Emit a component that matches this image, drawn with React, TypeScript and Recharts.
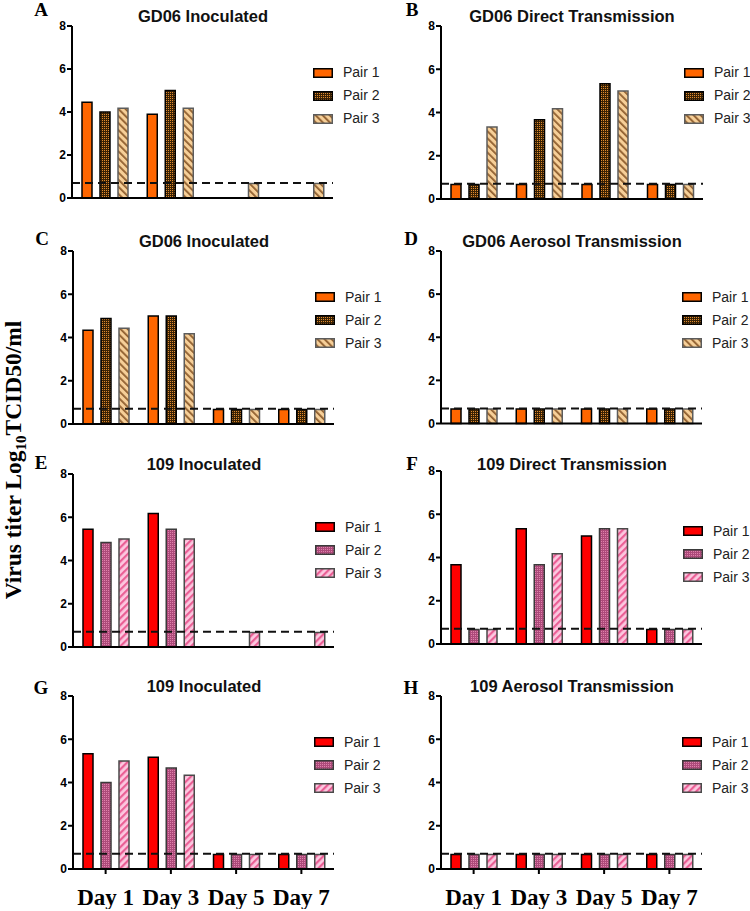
import React from 'react';
import { BarChart, Bar, XAxis, YAxis, ReferenceLine, Legend } from 'recharts';

const days = ['Day 1', 'Day 3', 'Day 5', 'Day 7'];
const yTicks = [0, 2, 4, 6, 8];
const pairNames = ['Pair 1', 'Pair 2', 'Pair 3'];
const detectionLimit = 0.7;

// A - GD06 Inoculated
const aPair1 = [4.45, 3.9, null, null];
const aPair2 = [4.0, 5.0, null, null];
const aPair3 = [4.17, 4.17, 0.67, 0.67];
// B - GD06 Direct Transmission
const bPair1 = [0.67, 0.67, 0.67, 0.67];
const bPair2 = [0.67, 3.67, 5.33, 0.67];
const bPair3 = [3.33, 4.17, 5.0, 0.67];
// C - GD06 Inoculated
const cPair1 = [4.33, 5.0, 0.67, 0.67];
const cPair2 = [4.88, 5.0, 0.67, 0.67];
const cPair3 = [4.43, 4.17, 0.67, 0.67];
// D - GD06 Aerosol Transmission
const dPair1 = [0.67, 0.67, 0.67, 0.67];
const dPair2 = [0.67, 0.67, 0.67, 0.67];
const dPair3 = [0.67, 0.67, 0.67, 0.67];
// E - 109 Inoculated
const ePair1 = [5.44, 6.17, null, null];
const ePair2 = [4.83, 5.44, null, null];
const ePair3 = [5.0, 5.0, 0.67, 0.67];
// F - 109 Direct Transmission
const fPair1 = [3.67, 5.33, 5.0, 0.67];
const fPair2 = [0.67, 3.67, 5.33, 0.67];
const fPair3 = [0.67, 4.17, 5.33, 0.67];
// G - 109 Inoculated
const gPair1 = [5.33, 5.17, 0.67, 0.67];
const gPair2 = [4.0, 4.67, 0.67, 0.67];
const gPair3 = [5.0, 4.33, 0.67, 0.67];
// H - 109 Aerosol Transmission
const hPair1 = [0.67, 0.67, 0.67, 0.67];
const hPair2 = [0.67, 0.67, 0.67, 0.67];
const hPair3 = [0.67, 0.67, 0.67, 0.67];

const SANS = '"Liberation Sans", Arial, sans-serif';
const SERIF = '"Liberation Serif", "Times New Roman", serif';
const Y_W = 30;
const X_H = 40;

type Plot = { left: number; right: number; top: number; bottom: number };
type PanelDef = {
  id: string;
  title: string;
  virus: 'gd' | 'h109';
  values: (number | null)[][];
  col: number;
  plot: Plot;
  legend: { x: number; y: number };
  titleAt: { x: number; y: number };
  letterAt: { x: number; y: number };
  showDays: boolean;
};

const panels: PanelDef[] = [
  { id: 'A', title: 'GD06 Inoculated', virus: 'gd', values: [aPair1, aPair2, aPair3], col: 0,
    plot: { left: 72, right: 333, top: 26, bottom: 198 }, legend: { x: 313, y: 72.5 },
    titleAt: { x: 203, y: 16 }, letterAt: { x: 41, y: 10 }, showDays: false },
  { id: 'B', title: 'GD06 Direct Transmission', virus: 'gd', values: [bPair1, bPair2, bPair3], col: 375,
    plot: { left: 441, right: 703, top: 26, bottom: 199 }, legend: { x: 684, y: 72.5 },
    titleAt: { x: 572, y: 16 }, letterAt: { x: 412, y: 10 }, showDays: false },
  { id: 'C', title: 'GD06 Inoculated', virus: 'gd', values: [cPair1, cPair2, cPair3], col: 0,
    plot: { left: 73, right: 334, top: 251, bottom: 424 }, legend: { x: 315, y: 297 },
    titleAt: { x: 204, y: 241 }, letterAt: { x: 42, y: 239 }, showDays: false },
  { id: 'D', title: 'GD06 Aerosol Transmission', virus: 'gd', values: [dPair1, dPair2, dPair3], col: 375,
    plot: { left: 441, right: 702, top: 251, bottom: 423.5 }, legend: { x: 682, y: 297 },
    titleAt: { x: 572, y: 241 }, letterAt: { x: 411, y: 239 }, showDays: false },
  { id: 'E', title: '109 Inoculated', virus: 'h109', values: [ePair1, ePair2, ePair3], col: 0,
    plot: { left: 73, right: 334, top: 474, bottom: 647 }, legend: { x: 315, y: 527 },
    titleAt: { x: 204, y: 464 }, letterAt: { x: 41, y: 463 }, showDays: false },
  { id: 'F', title: '109 Direct Transmission', virus: 'h109', values: [fPair1, fPair2, fPair3], col: 375,
    plot: { left: 441, right: 702, top: 471, bottom: 644 }, legend: { x: 683, y: 531 },
    titleAt: { x: 572, y: 464 }, letterAt: { x: 412, y: 464 }, showDays: false },
  { id: 'G', title: '109 Inoculated', virus: 'h109', values: [gPair1, gPair2, gPair3], col: 0,
    plot: { left: 73, right: 334, top: 696, bottom: 869 }, legend: { x: 314, y: 742 },
    titleAt: { x: 204, y: 686 }, letterAt: { x: 41, y: 688 }, showDays: true },
  { id: 'H', title: '109 Aerosol Transmission', virus: 'h109', values: [hPair1, hPair2, hPair3], col: 375,
    plot: { left: 441, right: 702, top: 696, bottom: 869 }, legend: { x: 682, y: 742 },
    titleAt: { x: 572, y: 686 }, letterAt: { x: 411, y: 688 }, showDays: true },
];

function seriesStyle(id: string, virus: 'gd' | 'h109') {
  if (virus === 'gd') {
    return [
      { fill: '#ff6600', stroke: '#000' },
      { fill: `url(#${id}-checker)`, stroke: '#000' },
      { fill: `url(#${id}-stripe)`, stroke: '#5c5c5c' },
    ];
  }
  return [
    { fill: '#ff0000', stroke: '#000' },
    { fill: `url(#${id}-checker)`, stroke: '#3a3a3a' },
    { fill: `url(#${id}-stripe)`, stroke: '#4a4a4a' },
  ];
}

function Patterns({ id, virus }: { id: string; virus: 'gd' | 'h109' }) {
  const gd = virus === 'gd';
  return (
    <defs>
      <pattern id={`${id}-checker`} width="2" height="2" patternUnits="userSpaceOnUse">
        <rect width="2" height="2" fill={gd ? '#3a2204' : '#ad4a7a'} />
        <rect x="0" y="0" width="1" height="1" fill={gd ? '#e08a2e' : '#de82ab'} />
      </pattern>
      <pattern
        id={`${id}-stripe`}
        width="5"
        height="5"
        patternUnits="userSpaceOnUse"
        patternTransform={gd ? 'rotate(-45)' : 'rotate(45)'}
      >
        <rect width="5" height="5" fill={gd ? '#f6cf98' : '#fcc8e0'} />
        <rect width={gd ? 1.8 : 2.2} height="5" fill={gd ? '#8f5e2e' : '#ea5f95'} />
      </pattern>
    </defs>
  );
}

function LegendBox({ styles }: { styles: { fill: string; stroke: string }[] }) {
  return (
    <div style={{ width: 'max-content', fontFamily: SANS, fontSize: 14, color: '#222', whiteSpace: 'nowrap' }}>
      {pairNames.map((name, i) => (
        <div key={name} style={{ display: 'flex', alignItems: 'center', height: 23 }}>
          <svg width={20} height={10} style={{ display: 'block', flexShrink: 0 }}>
            <rect x={0.75} y={0.75} width={18.5} height={8.5} fill={styles[i].fill} stroke={styles[i].stroke} strokeWidth={1.5} />
          </svg>
          <span style={{ marginLeft: 10, lineHeight: '23px', flexShrink: 0 }}>{name}</span>
        </div>
      ))}
    </div>
  );
}

function Panel({ p }: { p: PanelDef }) {
  const boxLeft = p.col;
  const boxTop = p.plot.top - 20;
  const boxW = 375;
  const boxH = p.plot.bottom - boxTop + X_H;
  const styles = seriesStyle(p.id, p.virus);
  const data = days.map((day, i) => ({
    day,
    p1: p.values[0][i],
    p2: p.values[1][i],
    p3: p.values[2][i],
  }));
  const keys = ['p1', 'p2', 'p3'];

  return (
    <>
      <div style={{ position: 'absolute', left: boxLeft, top: boxTop }}>
        <BarChart
          width={boxW}
          height={boxH}
          data={data}
          barGap={8}
          margin={{
            top: 20,
            left: p.plot.left - boxLeft - Y_W,
            right: boxLeft + boxW - p.plot.right - 1,
            bottom: 0,
          }}
        >
          <Patterns id={p.id} virus={p.virus} />
          <XAxis
            dataKey="day"
            height={X_H}
            interval={0}
            axisLine={{ stroke: '#000', strokeWidth: 2 }}
            tickLine={{ stroke: '#000', strokeWidth: 2 }}
            tickSize={5}
            tickMargin={14.5}
            tick={p.showDays ? { fill: '#000', fontSize: 23, fontFamily: SERIF, fontWeight: 700 } : false}
          />
          <YAxis
            width={Y_W}
            domain={[0, 8]}
            ticks={yTicks}
            interval={0}
            axisLine={{ stroke: '#000', strokeWidth: 2 }}
            tickLine={{ stroke: '#000', strokeWidth: 2 }}
            tickSize={5}
            tickMargin={1}
            tick={{ fill: '#000', fontSize: 12, fontFamily: SANS, fontWeight: 700 }}
          />
          {keys.map((k, i) => (
            <Bar
              key={k}
              dataKey={k}
              name={pairNames[i]}
              fill={styles[i].fill}
              stroke={styles[i].stroke}
              strokeWidth={1.5}
              barSize={10}
              isAnimationActive={false}
            />
          ))}
          <ReferenceLine y={detectionLimit} stroke="#111" strokeWidth={2} strokeDasharray="8 5" />
          <Legend
            layout="vertical"
            align="right"
            verticalAlign="top"
            width={1}
            wrapperStyle={{ left: p.legend.x - boxLeft, top: p.legend.y - 11.5 - boxTop, width: 1, overflow: 'visible' }}
            content={() => <LegendBox styles={styles} />}
          />
        </BarChart>
      </div>
      <div
        style={{
          position: 'absolute',
          left: p.titleAt.x - 150,
          top: p.titleAt.y - 10,
          width: 300,
          lineHeight: '20px',
          textAlign: 'center',
          fontFamily: SANS,
          fontWeight: 700,
          fontSize: 16.5,
          color: '#111',
        }}
      >
        {p.title}
      </div>
      <div
        style={{
          position: 'absolute',
          left: p.letterAt.x - 15,
          top: p.letterAt.y - 11,
          width: 30,
          lineHeight: '22px',
          textAlign: 'center',
          fontFamily: SERIF,
          fontWeight: 700,
          fontSize: 19,
          color: '#000',
        }}
      >
        {p.id}
      </div>
    </>
  );
}

export default function App() {
  return (
    <div
      style={{
        position: 'absolute',
        left: 0,
        top: 0,
        width: 750,
        height: 911,
        background: '#fff',
        overflow: 'hidden',
      }}
    >
      {panels.map((p) => (
        <Panel key={p.id} p={p} />
      ))}
      <svg width={44} height={911} style={{ position: 'absolute', left: 0, top: 0 }}>
        <text
          transform="translate(21,460) rotate(-90)"
          textAnchor="middle"
          fontFamily={SERIF}
          fontWeight={700}
          fontSize={23.5}
          fill="#000"
        >
          Virus titer Log
          <tspan fontSize={15} dy={5}>10</tspan>
          <tspan dy={-5}>TCID50/ml</tspan>
        </text>
      </svg>
    </div>
  );
}
